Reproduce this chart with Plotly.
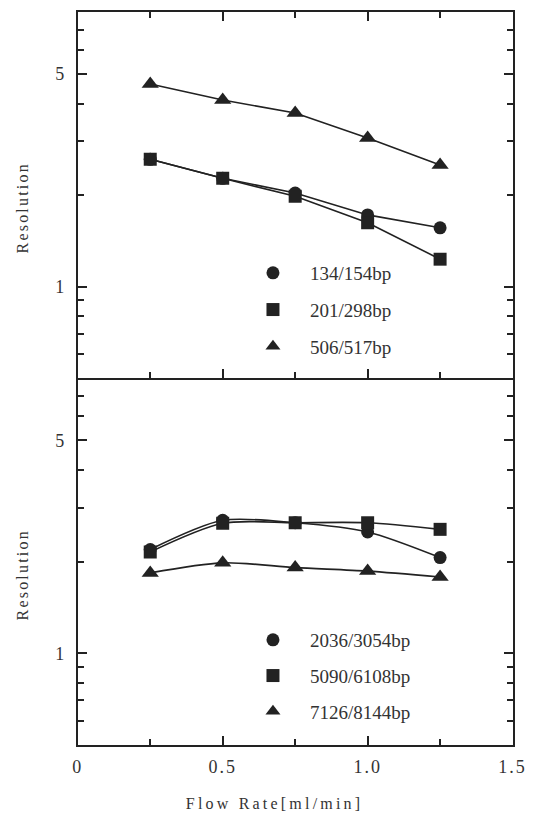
import plotly.graph_objects as go

# Flow rates (ml/min) at which resolution was measured
flow = [0.25, 0.5, 0.75, 1.0, 1.25]

# Upper panel: short fragments
res_134_154 = [2.62, 2.27, 2.03, 1.72, 1.56]
res_201_298 = [2.62, 2.27, 1.98, 1.62, 1.23]
res_506_517 = [4.64, 4.11, 3.72, 3.08, 2.51]

# Lower panel: long fragments
res_2036_3054 = [2.19, 2.73, 2.68, 2.50, 2.06]
res_5090_6108 = [2.15, 2.67, 2.68, 2.68, 2.55]
res_7126_8144 = [1.835, 1.98, 1.91, 1.86, 1.78]

top_names = ["134/154bp", "201/298bp", "506/517bp"]
bot_names = ["2036/3054bp", "5090/6108bp", "7126/8144bp"]
symbols = ["circle", "square", "triangle-up"]

x_ticks = [0, 0.5, 1.0, 1.5]
x_ticktext = ["0", "0.5", "1.0", "1.5"]
x_minor = [0.25, 0.75, 1.25]
y_ticks = [1, 5]
y_minor = [0.6, 0.7, 0.8, 0.9, 2, 3, 4, 6, 7]

INK = "#222222"
TXT = "#333333"
FONT = "Liberation Serif"

W, H = 542, 824
x_dom = [75 / W, 523 / W]
bot_dom = [(H - 745) / H, (H - 378) / H]
top_dom = [(H - 378) / H, (H - 12) / H]

fig = go.Figure()

def add_series(xs, ys, name, sym, xa, ya, legend, group, shape):
    size = 15 if sym == "triangle-up" else 13
    fig.add_trace(go.Scatter(
        x=xs, y=ys, mode="lines+markers", xaxis=xa, yaxis=ya,
        line=dict(color=INK, width=1.6, shape=shape, smoothing=0.8),
        marker=dict(symbol=sym, size=size, color=INK),
        showlegend=False, name=name,
    ))
    fig.add_trace(go.Scatter(
        x=[None], y=[None], mode="markers", xaxis=xa, yaxis=ya,
        marker=dict(symbol=sym, size=13, color=INK),
        name=name, legend=legend, legendgroup=group, showlegend=True,
    ))

for ys, nm, sym in zip([res_134_154, res_201_298, res_506_517], top_names, symbols):
    add_series(flow, ys, nm, sym, "x2", "y2", "legend", "t" + nm, "linear")
for ys, nm, sym in zip([res_2036_3054, res_5090_6108, res_7126_8144], bot_names, symbols):
    add_series(flow, ys, nm, sym, "x", "y", "legend2", "b" + nm, "spline")

axis_common = dict(
    showline=True, linecolor=INK, linewidth=1.8,
    ticks="inside", ticklen=9, tickwidth=1.5, tickcolor=INK,
    showgrid=False, zeroline=False,
    tickfont=dict(family=FONT, size=18, color=TXT),
)
x_common = dict(
    axis_common, range=[0, 1.5], domain=x_dom,
    tickmode="array", tickvals=x_ticks, ticktext=x_ticktext,
    minor=dict(tickmode="array", tickvals=x_minor, ticks="inside",
               ticklen=6, tickwidth=1.5, tickcolor=INK),
)
y_common = dict(
    axis_common, type="log", range=[-0.30103, 0.90309], mirror="allticks",
    tickmode="array", tickvals=y_ticks, ticktext=["1", "5"],
    minor=dict(tickmode="array", tickvals=y_minor, ticks="inside",
               ticklen=6, tickwidth=1.5, tickcolor=INK),
    ticklabelstandoff=8,
)

legend_font = dict(family=FONT, size=19, color=TXT)

fig.update_layout(
    width=W, height=H,
    margin=dict(l=0, r=0, t=0, b=0),
    paper_bgcolor="white", plot_bgcolor="white",
    # the lower panel's top edge is drawn by the upper panel's bottom axis line
    xaxis=dict(x_common, anchor="y", mirror=False, ticklabelstandoff=4),
    yaxis=dict(y_common, domain=bot_dom, anchor="x"),
    xaxis2=dict(x_common, anchor="y2", mirror="allticks", showticklabels=False),
    yaxis2=dict(y_common, domain=top_dom, anchor="x2"),
    legend=dict(
        x=238 / W, y=(H - 254) / H, xanchor="left", yanchor="top",
        bgcolor="rgba(0,0,0,0)", font=legend_font,
        tracegroupgap=9, itemwidth=64,
    ),
    legend2=dict(
        x=238 / W, y=(H - 621) / H, xanchor="left", yanchor="top",
        bgcolor="rgba(0,0,0,0)", font=legend_font,
        tracegroupgap=8, itemwidth=64,
    ),
    annotations=[
        dict(text="Resolution", x=18 / W, y=(H - 208) / H, xref="paper", yref="paper",
             textangle=-90, showarrow=False, xanchor="center", yanchor="middle",
             font=dict(family=FONT, size=16, color=TXT)),
        dict(text="Resolution", x=18 / W, y=(H - 575) / H, xref="paper", yref="paper",
             textangle=-90, showarrow=False, xanchor="center", yanchor="middle",
             font=dict(family=FONT, size=16, color=TXT)),
        dict(text="Flow Rate[ml/min]", x=278 / W, y=(H - 803) / H, xref="paper", yref="paper",
             showarrow=False, xanchor="center", yanchor="middle",
             font=dict(family=FONT, size=16, color=TXT)),
    ],
)

# widen letter spacing of the axis titles and x tick labels
post = """
var gd = document.getElementById('{plot_id}');
function spaceText(){
  gd.querySelectorAll('.annotation-text').forEach(function(t){
    t.style.letterSpacing = (t.textContent.indexOf('Flow') === 0) ? '3.2px' : '2.2px';
  });
  gd.querySelectorAll('.xtick text').forEach(function(t){ t.style.letterSpacing = '2px'; });
}
spaceText();
gd.on('plotly_afterplot', spaceText);
"""

fig.write_html("out.html", post_script=post)
